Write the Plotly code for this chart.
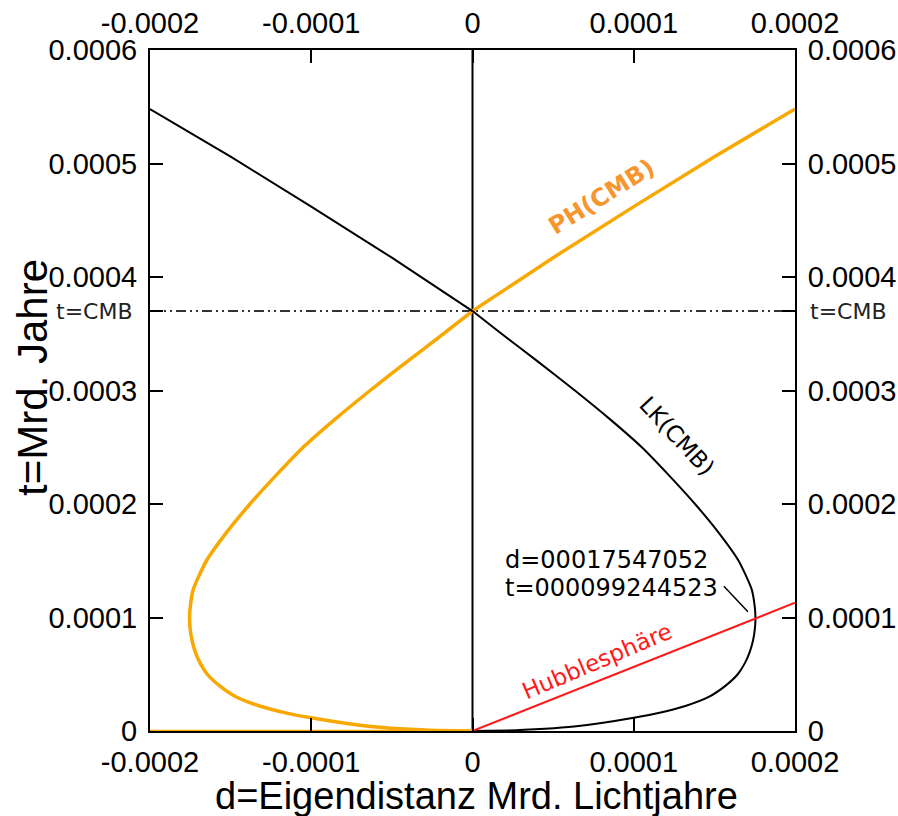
import plotly.graph_objects as go

# ---- data ----
x_ticks = [-0.0002, -0.0001, 0, 0.0001, 0.0002]
x_ticktext = ["-0.0002", "-0.0001", "0", "0.0001", "0.0002"]
y_ticks = [0, 0.0001, 0.0002, 0.0003, 0.0004, 0.0005, 0.0006]
y_ticktext = ["0", "0.0001", "0.0002", "0.0003", "0.0004", "0.0005", "0.0006"]

t_cmb = 0.00037

# LK(CMB): light cone, lower teardrop (t < t_CMB) and upper branch (t > t_CMB)
lk_low_t = [0, 0.0000005, 0.000001, 0.000002, 0.000004, 0.000007, 0.0000116, 0.000016,
            0.000022, 0.00003, 0.00004, 0.00005, 0.00006, 0.00007, 0.00008, 0.00009,
            0.0000992, 0.00011, 0.000125, 0.00015, 0.000175, 0.0002, 0.000225, 0.00025,
            0.000275, 0.0003, 0.000325, 0.00035, 0.00037]
lk_low_d = [0, 0.000022, 0.000032, 0.000045, 0.000063, 0.00008, 0.0001, 0.000116,
            0.000132, 0.0001465, 0.000157, 0.0001645, 0.000169, 0.000172, 0.000174, 0.0001751,
            0.00017547, 0.0001750, 0.0001731, 0.000165, 0.0001525, 0.000138, 0.000122, 0.000105,
            0.000085, 0.0000635, 0.000041, 0.000018, 0]
lk_up_t = [0.00037, 0.000417, 0.000462, 0.000506, 0.000548]
lk_up_d = [0, -0.00005, -0.0001, -0.00015, -0.0002]

# PH(CMB): particle horizon
ph_low_t = [0, 0.0000005, 0.000001, 0.000002, 0.000004, 0.000007, 0.0000116, 0.000016,
            0.000022, 0.00003, 0.00004, 0.00005, 0.00006, 0.00007, 0.00008, 0.00009,
            0.0000992, 0.00011, 0.000125, 0.00015, 0.000175, 0.0002, 0.000225, 0.00025,
            0.000275, 0.0003, 0.000325, 0.00035, 0.00037]
ph_low_d = [0, -0.000022, -0.000032, -0.000045, -0.000063, -0.00008, -0.0001, -0.000116,
            -0.000132, -0.0001465, -0.000157, -0.0001645, -0.000169, -0.000172, -0.000174, -0.0001751,
            -0.00017547, -0.0001750, -0.0001731, -0.000165, -0.0001525, -0.000138, -0.000122, -0.000105,
            -0.000085, -0.0000635, -0.000041, -0.000018, 0]
ph_up_t = [0.00037, 0.000417, 0.000462, 0.000506, 0.000548]
ph_up_d = [0, 0.00005, 0.0001, 0.00015, 0.0002]
ph_base_d = [-0.0002, 0]
ph_base_t = [0, 0]

# Hubble sphere
hub_d = [0, 0.0002]
hub_t = [0, 0.000113]

# marker line of the annotated point
ptr_d = [0.0001559, 0.0001708]
ptr_t = [0.0001275, 0.000105]

ORANGE = "#f8a800"
RED = "#ff1a1a"
ANN_FONT = "DejaVu Sans"
AX_FONT = "Liberation Sans, Arial"

fig = go.Figure()

fig.add_trace(go.Scatter(x=[-0.0002, 0.0002], y=[t_cmb, t_cmb], mode="lines",
                         line=dict(color="#333333", width=2, dash="10px,4px,2px,4px,2px,4px"),
                         hoverinfo="skip"))
fig.add_trace(go.Scatter(x=[0, 0], y=[0, 0.0006], mode="lines",
                         line=dict(color="black", width=2), hoverinfo="skip"))
fig.add_trace(go.Scatter(x=ph_base_d, y=ph_base_t, mode="lines",
                         line=dict(color=ORANGE, width=2.5)))
fig.add_trace(go.Scatter(x=ph_low_d, y=ph_low_t, mode="lines",
                         line=dict(color=ORANGE, width=3.5, shape="spline", smoothing=0.6)))
fig.add_trace(go.Scatter(x=ph_up_d, y=ph_up_t, mode="lines",
                         line=dict(color=ORANGE, width=3.5)))
fig.add_trace(go.Scatter(x=lk_low_d, y=lk_low_t, mode="lines",
                         line=dict(color="black", width=2, shape="spline", smoothing=0.6)))
fig.add_trace(go.Scatter(x=lk_up_d, y=lk_up_t, mode="lines",
                         line=dict(color="black", width=2)))
fig.add_trace(go.Scatter(x=hub_d, y=hub_t, mode="lines",
                         line=dict(color=RED, width=2)))
fig.add_trace(go.Scatter(x=ptr_d, y=ptr_t, mode="lines",
                         line=dict(color="black", width=1.5)))
fig.add_trace(go.Scatter(x=[0], y=[0], xaxis="x2", yaxis="y2", mode="markers",
                         marker=dict(opacity=0), hoverinfo="skip"))

axis_common = dict(showgrid=False, zeroline=False, showline=True, linecolor="black",
                   linewidth=2, ticks="inside", ticklen=13, tickwidth=2, tickcolor="black",
                   automargin=False,
                   tickfont=dict(family=AX_FONT, size=29, color="black"))

fig.update_layout(
    width=898, height=816,
    margin=dict(l=150, r=103, t=50, b=84.5, pad=0),
    paper_bgcolor="white", plot_bgcolor="white",
    showlegend=False,
    xaxis=dict(range=[-0.0002, 0.0002], tickvals=x_ticks, ticktext=x_ticktext,
               ticklabelstandoff=4, **axis_common),
    yaxis=dict(range=[0, 0.0006], tickvals=y_ticks + [t_cmb], ticktext=y_ticktext + [""],
               ticklabelstandoff=5, **axis_common),
    xaxis2=dict(range=[-0.0002, 0.0002], tickvals=x_ticks, ticktext=x_ticktext,
                overlaying="x", side="top", ticklabelstandoff=3, **axis_common),
    yaxis2=dict(range=[0, 0.0006], tickvals=y_ticks + [t_cmb], ticktext=y_ticktext + [""],
                overlaying="y", side="right", ticklabelstandoff=5, **axis_common),
)

annotations = [
    dict(text="d=Eigendistanz Mrd. Lichtjahre", xref="paper", yref="paper", x=0.506, y=-0.0961,
         xanchor="center", yanchor="middle",
         showarrow=False, font=dict(family=AX_FONT, size=38, color="black")),
    dict(text="t=Mrd. Jahre", xref="paper", yref="paper", x=-0.1814, y=0.52, textangle=-90,
         xanchor="center", yanchor="middle",
         showarrow=False, font=dict(family=AX_FONT, size=42, color="black")),
    dict(text="t=CMB", xref="paper", yref="y", x=-0.0233, y=t_cmb, xanchor="right",
         yanchor="middle",
         showarrow=False, font=dict(family=ANN_FONT, size=22, color="#222222")),
    dict(text="t=CMB", xref="paper", yref="y", x=1.0202, y=t_cmb, xanchor="left",
         yanchor="middle",
         showarrow=False, font=dict(family=ANN_FONT, size=22, color="#222222")),
    dict(text="<b>PH(CMB)</b>", x=0.0000799, y=0.0004705, textangle=-32,
         showarrow=False, font=dict(family=ANN_FONT, size=24, color="#f7952f")),
    dict(text="LK(CMB)", x=0.0001268, y=0.0002597, textangle=47,
         showarrow=False, font=dict(family=ANN_FONT, size=23, color="black")),
    dict(text="Hubblesphäre", x=0.0000775, y=0.0000614, textangle=-23,
         showarrow=False, font=dict(family=ANN_FONT, size=23, color=RED)),
    dict(text="d=00017547052", x=0.0000190, y=0.0001505, xanchor="left",
         showarrow=False, font=dict(family=ANN_FONT, size=24, color="black")),
    dict(text="t=000099244523", x=0.0000190, y=0.000126, xanchor="left",
         showarrow=False, font=dict(family=ANN_FONT, size=24, color="black")),
]
fig.update_layout(annotations=annotations)

# remove the default 8px page margin so the figure fills the window exactly
fig.write_html("out.html", config={"displayModeBar": False},
               post_script="document.body.style.margin='0px';document.body.style.overflow='hidden';")
